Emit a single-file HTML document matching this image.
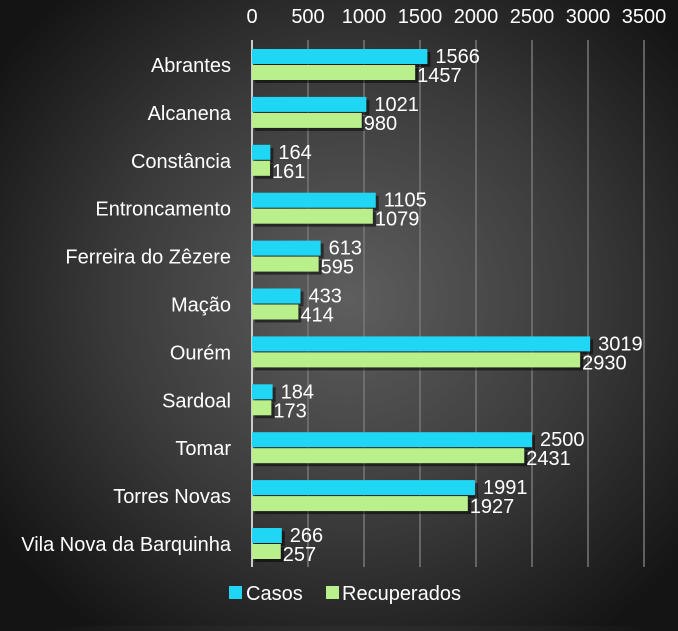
<!DOCTYPE html>
<html><head><meta charset="utf-8"><style>
body{margin:0;width:678px;height:626px;overflow:hidden;background:radial-gradient(ellipse 430px 410px at 350px 300px,#5e5e5e 0%,#3a3a3a 55%,#141414 100%);font-family:"Liberation Sans",sans-serif;}
svg text{fill:#fff;font-family:"Liberation Sans",sans-serif;}
</style></head><body>
<svg id="chart" width="678" height="626" xmlns="http://www.w3.org/2000/svg"></svg>
<script>
const categories=["Abrantes","Alcanena","Constância","Entroncamento","Ferreira do Zêzere","Mação","Ourém","Sardoal","Tomar","Torres Novas","Vila Nova da Barquinha"];
const casos=[1566,1021,164,1105,613,433,3019,184,2500,1991,266];
const recuperados=[1457,980,161,1079,595,414,2930,173,2431,1927,257];
const ticks=[0,500,1000,1500,2000,2500,3000,3500];
const svg=document.getElementById('chart');const NS="http://www.w3.org/2000/svg";
const x0=252,pxPer=56/500,top0=41,step=47.9,bh=15;
const x=v=>x0+v*pxPer;
function mk(t,a,p){const e=document.createElementNS(NS,t);for(const k in a)e.setAttribute(k,a[k]);(p||svg).appendChild(e);return e;}
ticks.forEach(t=>{
 const g=mk('line',{x1:x(t),x2:x(t),y1:40,y2:567,stroke:t===0?'#ccc':'#777','stroke-width':t===0?2:1.5});
 
 
 const tx=mk('text',{x:x(t),y:23,'text-anchor':'middle','font-size':20});tx.textContent=t;
 
 
});
categories.forEach((c,i)=>{
 const cy=top0+step*i+24;
 const l=mk('text',{x:231,y:cy+7,'text-anchor':'end','font-size':20});l.textContent=c;
 
 
 [[casos[i],'#1fd6f5',cy-16],[recuperados[i],'#b9f08c',cy]].forEach(([v,col,y],j)=>{
  mk('rect',{x:x0+3,y:y+3,width:x(v)-x0,height:bh,fill:'rgba(0,0,0,0.5)'});
  const r=mk('rect',{x:x0,y:y,width:x(v)-x0,height:bh,fill:col});
  
  
  const t=mk('text',{x:x(v)+(j?2:8),y:y+(j?17:14),'font-size':20});t.textContent=v;
  
  
 });
});
const lg=mk('g',{});


mk('rect',{x:229,y:586,width:13,height:13,fill:'#1fd6f5'},lg);
const t1=mk('text',{x:246,y:600,'font-size':20},lg);t1.textContent='Casos';
mk('rect',{x:326,y:586,width:13,height:13,fill:'#b9f08c'},lg);
const t2=mk('text',{x:342,y:600,'font-size':20},lg);t2.textContent='Recuperados';
</script>
</body></html>
